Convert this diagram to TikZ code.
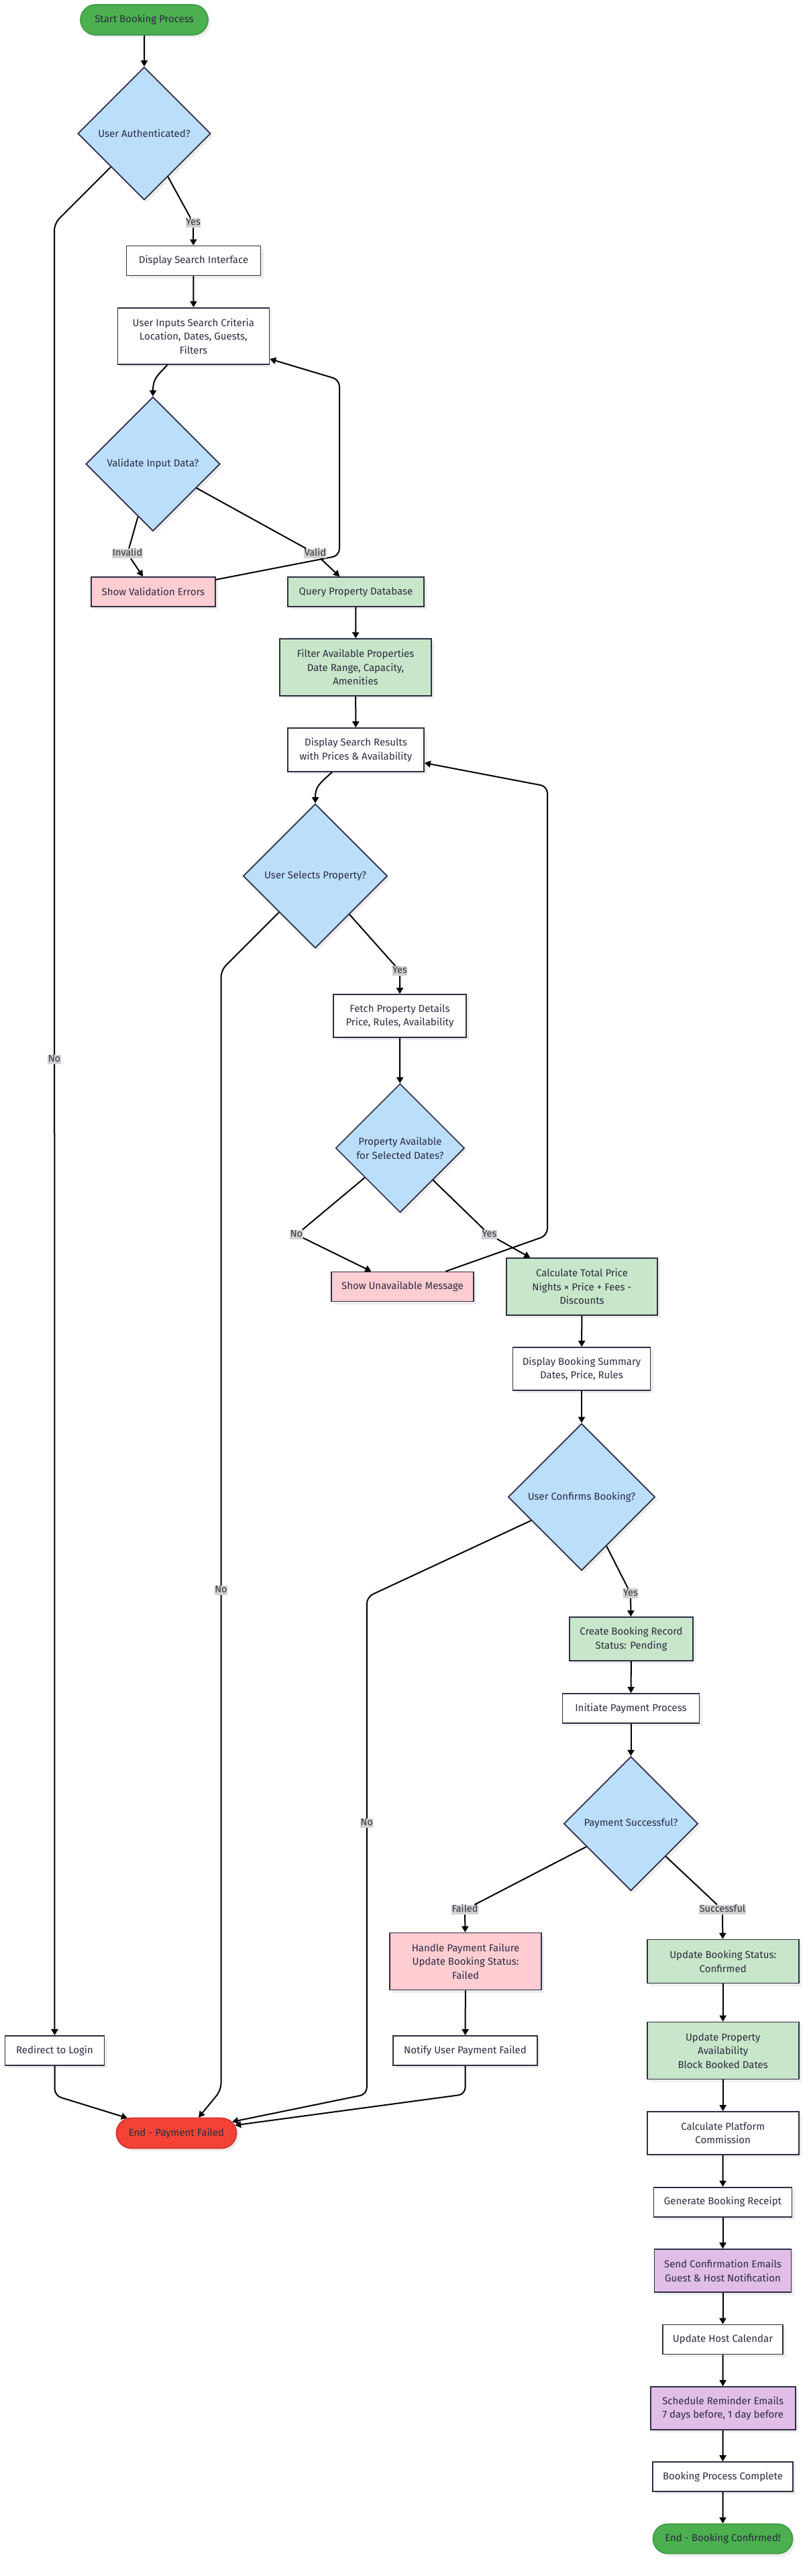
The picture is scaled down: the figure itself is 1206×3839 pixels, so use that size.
\documentclass[tikz,border=0pt]{standalone}
\usepackage{fontspec}
\setmainfont{Fira Sans}
\usetikzlibrary{arrows.meta,shapes.geometric,shapes.misc,shadows}
\definecolor{txt}{HTML}{2B2B40}
\definecolor{bord}{HTML}{2E2E45}
\definecolor{dfill}{HTML}{BBDEFB}
\definecolor{gfill}{HTML}{C8E6C9}
\definecolor{pfill}{HTML}{FFCDD2}
\definecolor{vfill}{HTML}{E1BEE7}
\definecolor{tgreen}{HTML}{4CAF50}
\definecolor{tgreenb}{HTML}{3D9A41}
\definecolor{tred}{HTML}{F44336}
\definecolor{tredb}{HTML}{D32F2F}
\definecolor{lgray}{HTML}{D0D0D0}
\definecolor{ltxt}{HTML}{333340}
\tikzset{
 base/.style={draw=bord, line width=1.7pt, text=txt, font=\fontsize{15}{20.5}\selectfont, align=center, inner sep=0pt,
   drop shadow={shadow xshift=4pt, shadow yshift=-4pt, fill=black, opacity=0.07}},
 box/.style={base, rectangle, fill=white},
 gbox/.style={box, fill=gfill},
 pbox/.style={box, fill=pfill},
 vbox/.style={box, fill=vfill},
 dec/.style={base, diamond, fill=dfill, aspect=1},
 term/.style={base, rounded rectangle, fill=tgreen, draw=tgreenb},
 termr/.style={base, rounded rectangle, fill=tred, draw=tredb},
 lbl/.style={fill=lgray, text=ltxt, font=\fontsize{14.5}{16}\selectfont, inner xsep=0.5pt, inner ysep=0.5pt, text height=10.5pt, text depth=3pt},
 arr/.style={draw=black, line width=2pt, -{Triangle[length=9pt,width=10pt]}},
}
\begin{document}
\begin{tikzpicture}[x=1pt,y=-1pt]
\useasboundingbox[fill=white] (0,0) rectangle (1206,3839);
% nodes
\node[term, minimum width=190pt, minimum height=45pt] (start) at (215,29.5) {Start Booking Process};
\node[dec, minimum width=198pt, minimum height=198pt] (auth) at (215,199) {User Authenticated?};
\node[box, minimum width=200pt, minimum height=44pt] (dsi) at (288.5,388.6) {Display Search Interface};
\node[box, minimum width=226pt, minimum height=84.5pt] (ui) at (288.4,501) {User Inputs Search Criteria\\Location, Dates, Guests,\\Filters};
\node[dec, minimum width=200pt, minimum height=200pt] (vid) at (228,691.5) {Validate Input Data?};
\node[pbox, minimum width=185pt, minimum height=44pt] (sve) at (228.4,882) {Show Validation Errors};
\node[gbox, minimum width=203pt, minimum height=44pt] (qpd) at (530.5,882) {Query Property Database};
\node[gbox, minimum width=226pt, minimum height=85pt] (fap) at (530,994.6) {Filter Available Properties\\Date Range, Capacity,\\Amenities};
\node[box, minimum width=203pt, minimum height=65pt] (dsr) at (530.5,1117.5) {Display Search Results\\with Prices \& Availability};
\node[dec, minimum width=215pt, minimum height=215pt] (usp) at (470,1305.5) {User Selects Property?};
\node[box, minimum width=198pt, minimum height=64pt] (fpd) at (596,1514) {Fetch Property Details\\Price, Rules, Availability};
\node[dec, minimum width=192pt, minimum height=192pt] (pav) at (596.4,1711) {Property Available\\for Selected Dates?};
\node[pbox, minimum width=212pt, minimum height=44pt] (sum) at (600,1917.5) {Show Unavailable Message};
\node[gbox, minimum width=225pt, minimum height=85pt] (ctp) at (867.5,1917.5) {Calculate Total Price\\Nights × Price + Fees -\\Discounts};
\node[box, minimum width=205pt, minimum height=64pt] (dbs) at (867,2040) {Display Booking Summary\\Dates, Price, Rules};
\node[dec, minimum width=219pt, minimum height=219pt] (ucb) at (867,2231) {User Confirms Booking?};
\node[gbox, minimum width=184pt, minimum height=65pt] (cbr) at (941,2442.5) {Create Booking Record\\Status: Pending};
\node[box, minimum width=204pt, minimum height=44pt] (ipp) at (940.5,2546) {Initiate Payment Process};
\node[dec, minimum width=200pt, minimum height=200pt] (ps) at (940.5,2717.7) {Payment Successful?};
\node[pbox, minimum width=226pt, minimum height=85pt] (hpf) at (694,2923) {Handle Payment Failure\\Update Booking Status:\\Failed};
\node[gbox, minimum width=226pt, minimum height=65pt] (ubs) at (1077.7,2923) {Update Booking Status:\\Confirmed};
\node[box, minimum width=148pt, minimum height=44pt] (login) at (81.5,3056) {Redirect to Login};
\node[box, minimum width=215pt, minimum height=44pt] (nup) at (693.5,3056) {Notify User Payment Failed};
\node[gbox, minimum width=226pt, minimum height=85pt] (upa) at (1077.7,3056) {Update Property\\Availability\\Block Booked Dates};
\node[termr, minimum width=179pt, minimum height=45pt] (ep) at (263,3179) {End - Payment Failed};
\node[box, minimum width=226pt, minimum height=64pt] (cpc) at (1077.7,3179) {Calculate Platform\\Commission};
\node[box, minimum width=206pt, minimum height=44pt] (gbr) at (1077.5,3281.7) {Generate Booking Receipt};
\node[vbox, minimum width=204pt, minimum height=64pt] (sce) at (1077.5,3384) {Send Confirmation Emails\\Guest \& Host Notification};
\node[box, minimum width=179pt, minimum height=44pt] (uhc) at (1077.5,3486.5) {Update Host Calendar};
\node[vbox, minimum width=216pt, minimum height=64pt] (sre) at (1077.7,3589) {Schedule Reminder Emails\\7 days before, 1 day before};
\node[box, minimum width=209pt, minimum height=44pt] (bpc) at (1077.5,3691) {Booking Process Complete};
\node[term, minimum width=208pt, minimum height=44pt] (ebc) at (1077.5,3783.5) {End - Booking Confirmed!};
% edge labels that split their connectors
\node[lbl] (lyes1) at (288,332) {Yes};
\node[lbl] (linv) at (190,825) {Invalid};
\node[lbl] (lval) at (470,825) {Valid};
\node[lbl] (lyes2) at (596,1447) {Yes};
\node[lbl] (lno2) at (442,1840) {No};
\node[lbl] (lyes3) at (729.5,1840) {Yes};
\node[lbl] (lyes4) at (940,2374.6) {Yes};
\node[lbl] (lfail) at (693,2846) {Failed};
\node[lbl] (lsucc) at (1077,2846) {Successful};
% bend points
\coordinate (b1) at (81,333);
\coordinate (b2a) at (506,828);
\coordinate (b2b) at (506,566);
\coordinate (b3a) at (816,1841);
\coordinate (b3b) at (816,1172);
\coordinate (b4a) at (329.5,1446);
\coordinate (b4b) at (329.5,3115);
\coordinate (b5a) at (546.8,2380);
\coordinate (b5b) at (546.8,3121);
\coordinate (b6) at (81.5,3123);
\coordinate (b7) at (693.5,3121);
% straight connectors
\draw[arr] (start) -- (auth);
\draw[arr] (dsi) -- (ui);
\draw[arr] (qpd) -- (fap);
\draw[arr] (fap) -- (dsr);
\draw[arr] (fpd) -- (pav);
\draw[arr] (ctp) -- (dbs);
\draw[arr] (dbs) -- (ucb);
\draw[arr] (cbr) -- (ipp);
\draw[arr] (ipp) -- (ps);
\draw[arr] (hpf) -- (nup);
\draw[arr] (ubs) -- (upa);
\draw[arr] (upa) -- (cpc);
\draw[arr] (cpc) -- (gbr);
\draw[arr] (gbr) -- (sce);
\draw[arr] (sce) -- (uhc);
\draw[arr] (uhc) -- (sre);
\draw[arr] (sre) -- (bpc);
\draw[arr] (bpc) -- (ebc);
% curved short connectors
\draw[arr] ([xshift=-39pt]ui.south) .. controls (234,560) and (228,565) .. (vid.north);
\draw[arr] ([xshift=-35.5pt]dsr.south) .. controls (476,1168) and (470,1172) .. (usp.north);
% labelled connectors
\draw[arr] (auth) -- (lyes1) -- (dsi);
\draw[arr] (vid) -- (linv) -- (sve);
\draw[arr] (vid) -- (lval) -- (qpd);
\draw[arr] (usp) -- (lyes2) -- (fpd);
\draw[arr] (pav) -- (lno2) -- (sum);
\draw[arr] (pav) -- (lyes3) -- (ctp);
\draw[arr] (ucb) -- (lyes4) -- (cbr);
\draw[arr] (ps) -- (lfail) -- (hpf);
\draw[arr] (ps) -- (lsucc) -- (ubs);
% long routed connectors
\draw[arr, rounded corners=10pt] (auth) -- (b1) -- (login);
\draw[arr, rounded corners=10pt] (sve) -- (b2a) -- (b2b) -- (ui);
\draw[arr, rounded corners=10pt] (sum) -- (b3a) -- (b3b) -- (dsr);
\draw[arr, rounded corners=10pt] (usp) -- (b4a) -- (b4b) -- ([xshift=33pt]ep.north);
\draw[arr, rounded corners=10pt] (ucb) -- (b5a) -- (b5b) -- (ep);
\draw[arr, rounded corners=10pt] (login) -- (b6) -- (ep);
\draw[arr, rounded corners=10pt] (nup) -- (b7) -- (ep);
% labels sitting on the long connectors
\node[lbl] (lno1) at (81,1579) {No};
\node[lbl] (lno3) at (329.5,2370) {No};
\node[lbl] (lno4) at (546.8,2717) {No};
% redraw labels over crossing lines
\node[lbl] at (lval) {Valid};
\node[lbl] at (lyes3) {Yes};
\end{tikzpicture}
\end{document}
